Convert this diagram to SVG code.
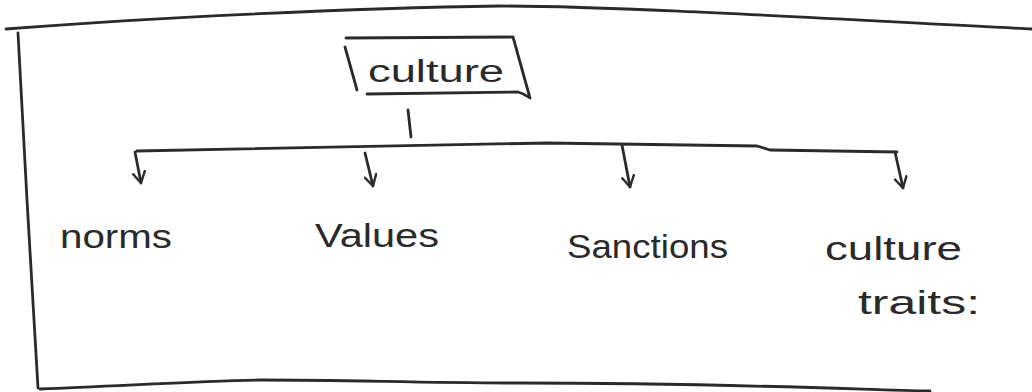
<svg xmlns="http://www.w3.org/2000/svg" width="1032" height="392" viewBox="0 0 1032 392">
  <style>
    .ink { fill: none; stroke: #2a2a2a; stroke-width: 2.8; stroke-linecap: round; stroke-linejoin: round; }
    .lbl { font-family: "Liberation Sans", "DejaVu Sans", sans-serif; fill: #2a2a2a; }
  </style>
  <defs>
    <marker id="head" viewBox="0 0 14 14" refX="12" refY="7" markerWidth="14" markerHeight="14" markerUnits="userSpaceOnUse" orient="auto">
      <path d="M1,1 L12,7 L2,13" fill="none" stroke="#2a2a2a" stroke-width="2.4" stroke-linecap="round" stroke-linejoin="round"/>
    </marker>
  </defs>
  <rect width="1032" height="392" fill="#ffffff"/>

  <!-- frame -->
  <g id="frame">
    <path class="ink" d="M6,29 C150,18 350,8 500,6 C620,6 850,20 1032,29"/>
    <path class="ink" d="M18,33 L27,200 L38,388"/>
    <path class="ink" d="M40,389 C120,386 200,381 260,380 C350,380 420,383 520,383 C700,383 820,388 930,391"/>
  </g>

  <!-- root node -->
  <g id="node-culture">
    <path class="ink" d="M346,38 L513,37 L530,98 C526,95 522,93 518,92 L367,94"/>
    <path class="ink" d="M345,47 L357,90"/>
    <text class="lbl" x="368" y="82" font-size="31" textLength="136" lengthAdjust="spacingAndGlyphs">culture</text>
  </g>

  <!-- connectors -->
  <g id="connectors">
    <path class="ink" d="M408,110 L411,137"/>
    <path class="ink" d="M137,151 L547,143 L757,146 L770,150 L897,152"/>
    <path class="ink" d="M135,152 L141,183" marker-end="url(#head)"/>
    <path class="ink" d="M365,153 L373,186" marker-end="url(#head)"/>
    <path class="ink" d="M622,145 L630,187" marker-end="url(#head)"/>
    <path class="ink" d="M895,152 L903,188" marker-end="url(#head)"/>
  </g>

  <g id="node-norms">
    <text class="lbl" x="60" y="248" font-size="34" textLength="112" lengthAdjust="spacingAndGlyphs">norms</text>
  </g>
  <g id="node-values">
    <text class="lbl" x="315" y="247" font-size="34" textLength="124" lengthAdjust="spacingAndGlyphs">Values</text>
  </g>
  <g id="node-sanctions">
    <text class="lbl" x="567" y="258" font-size="34" textLength="161" lengthAdjust="spacingAndGlyphs">Sanctions</text>
  </g>
  <g id="node-culture-traits">
    <text class="lbl" x="825" y="260" font-size="34" textLength="137" lengthAdjust="spacingAndGlyphs">culture</text>
    <text class="lbl" x="858" y="314" font-size="34" textLength="122" lengthAdjust="spacingAndGlyphs">traits:</text>
  </g>
</svg>
